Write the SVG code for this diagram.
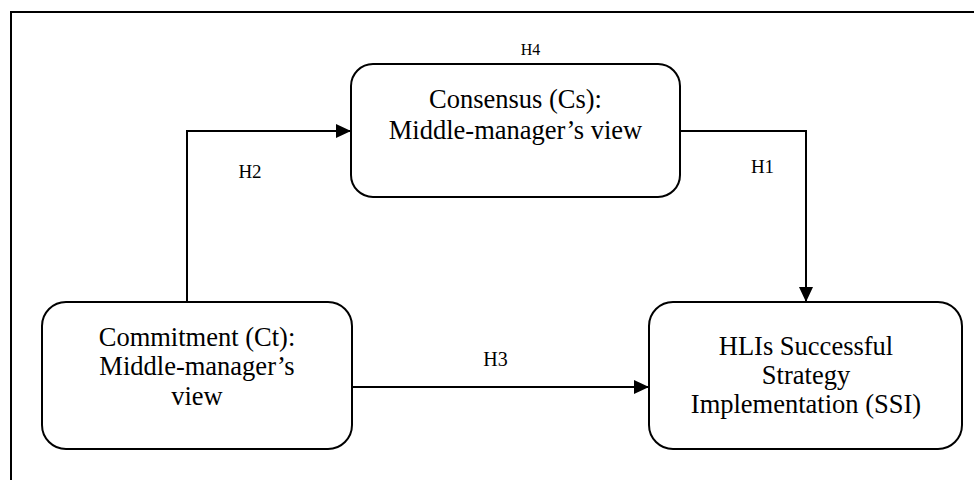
<svg xmlns="http://www.w3.org/2000/svg" width="974" height="480" viewBox="0 0 974 480">
<defs>
<marker id="arr" markerUnits="userSpaceOnUse" markerWidth="15" markerHeight="14" refX="15" refY="7" orient="auto">
<path d="M0,0 L15,7 L0,14 Z" fill="#000"/>
</marker>
<style>
.box{fill:#fff;stroke:#000;stroke-width:2}
.c{fill:none;stroke:#000;stroke-width:2}
</style>
</defs>
<rect width="974" height="480" fill="#fff"/>
<path d="M11,482 V12 H976" fill="none" stroke="#000" stroke-width="2"/>
<g id="connectors">
<path class="c" d="M187,302 V131 H351" marker-end="url(#arr)"/>
<path class="c" d="M680,131 H806 V302" marker-end="url(#arr)"/>
<path class="c" d="M353,387 H649" marker-end="url(#arr)"/>
<text x="530.5" y="55" font-size="16" font-family="Liberation Serif" text-anchor="middle">H4</text>
<text x="250" y="178" font-size="19" font-family="Liberation Serif" text-anchor="middle">H2</text>
<text x="762.5" y="173" font-size="19" font-family="Liberation Serif" text-anchor="middle">H1</text>
<text x="495.5" y="366" font-size="20" font-family="Liberation Serif" text-anchor="middle">H3</text>
</g>
<g id="consensus">
<rect class="box" x="351" y="64" width="329" height="133" rx="22"/>
<text x="515.5" y="108" font-size="26.5" font-family="Liberation Serif" text-anchor="middle">Consensus (Cs):</text>
<text x="515.5" y="139" font-size="26.5" font-family="Liberation Serif" text-anchor="middle">Middle-manager’s view</text>
</g>
<g id="commitment">
<rect class="box" x="42" y="302" width="310" height="147" rx="24"/>
<text x="197" y="346" font-size="26.5" font-family="Liberation Serif" text-anchor="middle">Commitment (Ct):</text>
<text x="197" y="375" font-size="26.5" font-family="Liberation Serif" text-anchor="middle">Middle-manager’s</text>
<text x="197" y="405" font-size="26.5" font-family="Liberation Serif" text-anchor="middle">view</text>
</g>
<g id="ssi">
<rect class="box" x="649" y="302" width="313" height="147" rx="24"/>
<text x="806" y="355" font-size="26.5" font-family="Liberation Serif" text-anchor="middle">HLIs Successful</text>
<text x="806" y="384" font-size="26.5" font-family="Liberation Serif" text-anchor="middle">Strategy</text>
<text x="806" y="413" font-size="26.5" font-family="Liberation Serif" text-anchor="middle">Implementation (SSI)</text>
</g>
</svg>
